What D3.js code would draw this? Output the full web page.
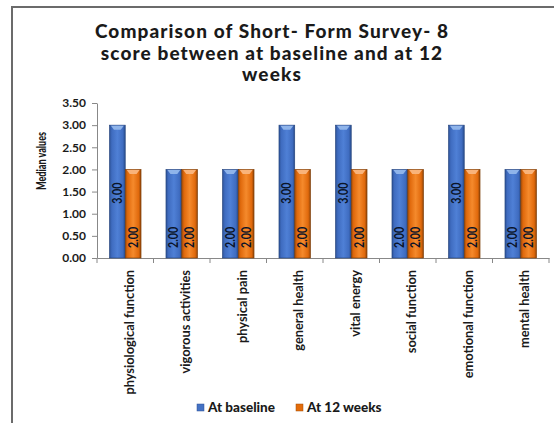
<!DOCTYPE html>
<html><head><meta charset="utf-8">
<script src="https://cdn.jsdelivr.net/npm/d3@7"></script>
<style>
html,body{margin:0;padding:0;background:#fff;}
svg{display:block;}
text{font-family:Lato, "Open Sans", sans-serif;}
</style></head>
<body>
<svg id="c" width="554" height="423"></svg>
<script>
const categories = ["physiological function","vigorous activities","physical pain","general health","vital energy","social function","emotional function","mental health"];
const baseline = [3,2,2,3,3,2,3,2];
const week12 = [2,2,2,2,2,2,2,2];
const seriesNames = ["At baseline","At 12 weeks"];
const yTicks = [0,0.5,1,1.5,2,2.5,3,3.5];
const titleLines = ["Comparison of Short- Form Survey- 8","score between at baseline and at 12","weeks"];

const svg = d3.select("#c");
const defs = svg.append("defs");
function grad(id, stops){
  const g = defs.append("linearGradient").attr("id",id).attr("x1","0").attr("x2","1").attr("y1","0").attr("y2","0");
  stops.forEach(s=>g.append("stop").attr("offset",s[0]).attr("stop-color",s[1]));
}
grad("gBlue",[[0,"#2d5297"],[0.15,"#3f6cc0"],[0.5,"#4f80d6"],[0.85,"#3f6cc0"],[1,"#274a8a"]]);
grad("gOrange",[[0,"#a04c08"],[0.15,"#e0690c"],[0.5,"#f58a2c"],[0.85,"#e0690c"],[1,"#8f4407"]]);
const colors = ["url(#gBlue)","url(#gOrange)"];
const caps = ["#8fb4ea","#f9b37a"];
const solid = ["#4472c4","#e46c0a"];

// frame
svg.append("path").attr("d","M12,423 L12,7 L554,7").attr("fill","none").attr("stroke","#6b6b6b").attr("stroke-width",2);

const x = d3.scaleBand().domain(categories).range([97,549]).paddingInner(0).paddingOuter(0);
const y = d3.scaleLinear().domain([0,3.5]).range([258,103]);
const inner = d3.scaleBand().domain([0,1]).range([0,x.bandwidth()]).paddingOuter(0.79).paddingInner(0);

// title
svg.append("text").attr("x",272).attr("y",38).attr("text-anchor","middle")
  .attr("font-size",19).attr("font-weight","900").attr("fill","#1a1a1a").attr("letter-spacing","1.1")
  .selectAll("tspan").data(titleLines).join("tspan").attr("x",272).attr("dy",(d,i)=>i?21.5:0).text(d=>d);

// y axis
const yAxis = svg.append("g").attr("transform","translate(97,0)")
  .call(d3.axisLeft(y).tickValues(yTicks).tickFormat(d3.format(".2f")).tickSize(5).tickSizeOuter(0));
yAxis.select(".domain").attr("stroke","#888");
yAxis.selectAll(".tick line").attr("stroke","#888");
yAxis.selectAll(".tick text").attr("font-size",12).attr("font-weight","bold").attr("fill","#1a1a1a").attr("x",-11);

// x axis
const xAxis = svg.append("g").attr("transform","translate(0,258)")
  .call(d3.axisBottom(x).tickSize(0).tickFormat(""));
xAxis.select(".domain").attr("stroke","#888");
xAxis.selectAll(".tick").remove();
const edges = categories.map(c=>x(c)).concat([x.range()[1]]);
xAxis.selectAll("line.sep").data(edges).join("line").attr("class","sep")
  .attr("x1",d=>d).attr("x2",d=>d).attr("y1",0).attr("y2",5).attr("stroke","#888");

// category labels
svg.append("g").selectAll("text").data(categories).join("text")
  .attr("transform",d=>`translate(${x(d)+x.bandwidth()/2+4},270) rotate(-90)`)
  .attr("text-anchor","end").attr("dy","0.35em").attr("font-size",12.8).attr("font-weight","bold").attr("fill","#1a1a1a")
  .text(d=>d);

// y label
svg.append("text").attr("transform","translate(41,161) rotate(-90)").attr("text-anchor","middle").attr("dy","0.35em")
  .attr("font-size",13).attr("font-weight","900").attr("fill","#1a1a1a")
  .attr("textLength",58).attr("lengthAdjust","spacingAndGlyphs").text("Median values");

// bars
const data = [];
categories.forEach((c,i)=>{ data.push({c,s:0,v:baseline[i]}); data.push({c,s:1,v:week12[i]}); });
const bars = svg.append("g").selectAll("g").data(data).join("g");
bars.append("rect")
  .attr("x",d=>x(d.c)+inner(d.s)).attr("width",inner.bandwidth())
  .attr("y",d=>y(d.v)).attr("height",d=>y(0)-y(d.v))
  .attr("fill",d=>colors[d.s]).attr("stroke",d=>d.s?"#7a3a05":"#23427a").attr("stroke-width",0.6);
bars.append("path")
  .attr("d",d=>{const x0=x(d.c)+inner(d.s)+1.5, w=inner.bandwidth()-3, t=y(d.v)+0.5;
    return `M${x0},${t} L${x0+w},${t} L${x0+w-3},${t+4} L${x0+3},${t+4} Z`;})
  .attr("fill",d=>caps[d.s]);
bars.append("text")
  .attr("transform",d=>`translate(${x(d.c)+inner(d.s)+inner.bandwidth()/2},${y(d.v)+68}) rotate(-90)`)
  .attr("text-anchor","middle").attr("dy","0.36em").attr("font-size",12.5).attr("font-weight","bold")
  .attr("font-family","'Liberation Sans Narrow', 'Liberation Sans', sans-serif")
  .attr("textLength",21).attr("lengthAdjust","spacingAndGlyphs")
  .attr("fill","#0a1428").text(d=>d3.format(".2f")(d.v));

// legend
const lg = svg.append("g");
const lx = [197,296];
seriesNames.forEach((n,i)=>{
  lg.append("rect").attr("x",lx[i]).attr("y",404).attr("width",7).attr("height",7).attr("fill",solid[i]).attr("stroke",i?"#a04c08":"#2d5297").attr("stroke-width",0.5);
  lg.append("text").attr("x",lx[i]+11).attr("y",412).attr("font-size",13.5).attr("font-weight","900").attr("fill","#1a1a1a").text(n);
});
</script>
</body></html>
